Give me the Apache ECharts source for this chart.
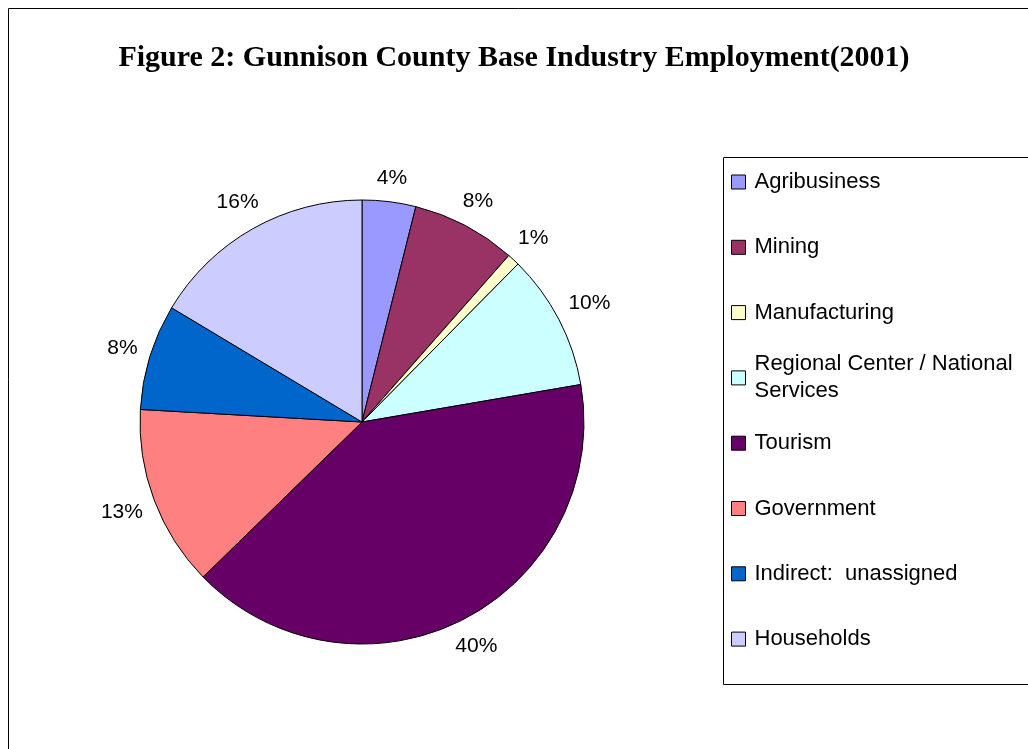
<!DOCTYPE html>
<html><head><meta charset="utf-8">
<script src="https://cdn.jsdelivr.net/npm/echarts@6/dist/echarts.min.js"></script>
<style>html,body{margin:0;padding:0;background:#fff}#c{width:1028px;height:749px}</style>
</head><body><div id="c"></div>
<script>
const titleText = 'Figure 2: Gunnison County Base Industry Employment(2001)';
const categories = ['Agribusiness', 'Mining', 'Manufacturing', 'Regional Center / National Services', 'Tourism', 'Government', 'Indirect:  unassigned', 'Households'];
const legendLabels = ['Agribusiness', 'Mining', 'Manufacturing', 'Regional Center / National\nServices', 'Tourism', 'Government', 'Indirect:  unassigned', 'Households'];
const shares = [3.9, 7.6, 0.9, 9.9, 40.4, 13.2, 7.7, 16.4];
const colors = ['#9999FF', '#993366', '#FFFFCC', '#CCFFFF', '#660066', '#FF8080', '#0066CC', '#CCCCFF'];

const chart = echarts.init(document.getElementById('c'), null, {renderer: 'canvas'});

const legendFirst = 182, legendStep = 65.3, legLine = 27;
const legends = categories.map((name, i) => {
  const multi = legendLabels[i].indexOf('\n') >= 0;
  const cy = legendFirst + i * legendStep;
  return {
    data: [name],
    orient: 'vertical',
    left: 731,
    top: multi ? cy - (legLine * 3) / 2 : cy - legLine / 2,
    padding: 0,
    itemWidth: 14,
    itemHeight: 14,
    icon: 'rect',
    selectedMode: false,
    itemStyle: {borderColor: '#000', borderWidth: 1},
    formatter: () => legendLabels[i],
    textStyle: {
      fontFamily: 'Liberation Sans', fontSize: 22, color: '#000', lineHeight: legLine,
      padding: multi ? [legLine, 0, 0, 4] : [0, 0, 0, 4]
    }
  };
});

chart.setOption({
  animation: false,
  backgroundColor: '#fff',
  title: {
    text: titleText,
    left: 'center',
    top: 38,
    textStyle: {fontFamily: 'Liberation Serif', fontWeight: 'bold', fontSize: 30, color: '#000'}
  },
  graphic: [
    {type: 'rect', shape: {x: 8.5, y: 8.5, width: 1100, height: 800}, style: {fill: 'none', stroke: '#000', lineWidth: 1}, silent: true, z: -1},
    {type: 'rect', shape: {x: 723.5, y: 157.5, width: 400, height: 527}, style: {fill: '#fff', stroke: '#000', lineWidth: 1}, silent: true, z: -1}
  ],
  legend: legends,
  series: [{
    type: 'pie',
    center: [362, 422],
    radius: 222,
    startAngle: 90,
    clockwise: true,
    avoidLabelOverlap: false,
    emphasis: {disabled: true},
    itemStyle: {borderColor: '#000', borderWidth: 1},
    data: categories.map((n, i) => ({name: n, value: shares[i], itemStyle: {color: colors[i]}})),
    label: {
      show: true, position: 'outside',
      formatter: p => Math.round(p.percent) + '%',
      fontFamily: 'Liberation Sans', fontSize: 21, color: '#000'
    },
    labelLine: {show: true, length: 10, length2: 0, lineStyle: {opacity: 0}},
    labelLayout: function (p) {
      const pts = p.labelLinePoints;
      if (!pts) return {};
      const p0 = pts[0], p1 = pts[1];
      let ux = p1[0] - p0[0], uy = p1[1] - p0[1];
      const L = Math.hypot(ux, uy) || 1; ux /= L; uy /= L;
      const w = p.labelRect.width, h = p.labelRect.height;
      const d = 11 + Math.abs(ux) * w / 2 + Math.abs(uy) * h / 2;
      return {x: p0[0] + ux * d, y: p0[1] + uy * d, align: 'center', verticalAlign: 'middle'};
    }
  }]
});
</script>
</body></html>
